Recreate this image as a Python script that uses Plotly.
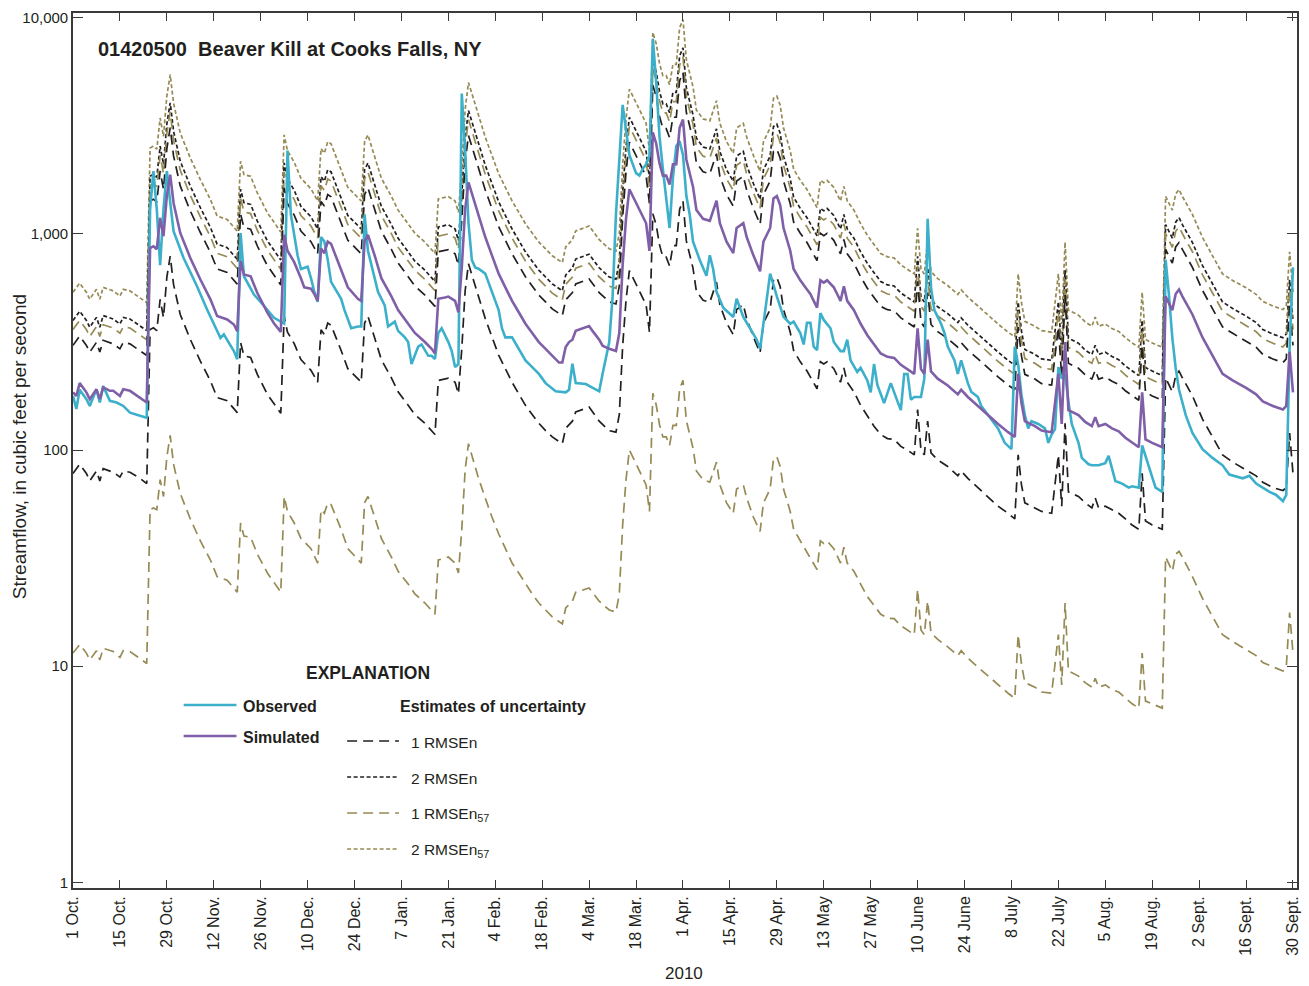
import pandas as pd
import plotly.graph_objects as go

# Water year 2010, days counted from 1 October 2009
START = pd.Timestamp("2009-10-01")

# Observed daily streamflow (cubic feet per second)
obs_day = [0, 1, 2, 4, 5, 7, 8, 9, 11, 13, 15, 17, 20, 22, 23, 24, 25, 26, 27, 28,
           29, 30, 33, 37, 40, 43, 44, 45, 48, 49, 50, 51, 54, 57, 60, 63, 64, 65, 66, 67,
           68, 70, 71, 72, 73, 74, 75, 76, 77, 78, 80, 81, 83, 85, 86, 87, 88, 90, 91, 93,
           94, 96, 97, 99, 100, 101, 103, 104, 106, 107, 108, 109, 110, 112, 113, 114, 115, 116, 117, 118,
           119, 120, 121, 123, 125, 127, 128, 129, 131, 133, 135, 137, 139, 141, 144, 147, 148, 149, 150, 153,
           155, 157, 158, 160, 161, 162, 164, 165, 166, 168, 169, 170, 171, 172, 173, 174, 175, 176, 177, 178,
           179, 180, 181, 182, 183, 184, 185, 187, 189, 190, 191, 192, 194, 197, 198, 200, 202, 204, 205, 208,
           210, 212, 214, 215, 217, 218, 219, 220, 221, 222, 223, 224, 226, 227, 229, 230, 231, 232, 234, 235,
           237, 238, 239, 240, 242, 243, 244, 246, 247, 248, 249, 250, 251, 253, 254, 255, 256, 257, 259, 260,
           261, 263, 264, 265, 267, 268, 270, 271, 273, 276, 278, 280, 281, 282, 283, 284, 285, 286, 288, 290,
           291, 292, 293, 294, 295, 296, 297, 298, 300, 301, 303, 304, 306, 308, 309, 310, 311, 313, 315, 316,
           318, 319, 320, 322, 323, 325, 326, 327, 328, 329, 330, 332, 334, 337, 340, 343, 345, 349, 351, 353,
           355, 357, 359, 361, 362, 363, 364]
obs_cfs = [178, 155, 190, 172, 160, 191, 166, 198, 169, 166, 160, 149, 144, 141, 1300, 1950, 1300, 716, 1300, 1950,
           1400, 1030, 774, 573, 447, 355, 330, 343, 287, 263, 1010, 637, 524, 464, 409, 385, 2430, 1230, 1010, 796,
           688, 705, 624, 540, 485, 967, 921, 760, 600, 566, 501, 444, 366, 373, 373, 1230, 836, 624, 540, 467,
           373, 393, 356, 332, 316, 250, 301, 308, 273, 273, 264, 348, 366, 316, 287, 242, 250, 4460, 2430, 1120,
           758, 700, 690, 655, 540, 444, 365, 332, 332, 294, 260, 242, 225, 204, 187, 185, 190, 251, 204, 202,
           194, 187, 225, 316, 514, 1230, 3950, 2950, 2320, 1910, 1860, 2000, 2100, 2300, 8000, 5040, 2810, 2000, 1500, 1065,
           1820, 2550, 2680, 2320, 1500, 1230, 921, 758, 640, 796, 688, 540, 455, 413, 501, 413, 366, 324, 294, 655,
           514, 413, 384, 393, 348, 308, 388, 388, 301, 290, 430, 400, 366, 316, 287, 287, 324, 260, 230, 240,
           210, 185, 250, 200, 165, 186, 204, 168, 153, 225, 225, 171, 176, 176, 214, 1174, 566, 444, 384, 348,
           301, 260, 225, 260, 204, 186, 176, 160, 145, 126, 108, 101, 301, 249, 180, 145, 126, 136, 132, 126,
           108, 118, 125, 242, 214, 225, 168, 132, 108, 92, 86, 85, 85, 87, 94, 81, 72, 70, 67, 68,
           67, 105, 94, 74, 67, 64, 760, 520, 330, 240, 190, 145, 120, 101, 92, 85, 77, 74, 76, 70,
           67, 64, 62, 58, 62, 300, 700]

# Simulated daily streamflow (cubic feet per second)
sim_day = [0, 1, 2, 4, 5, 7, 8, 9, 11, 12, 14, 15, 17, 20, 22, 23, 24, 25, 26, 27,
           28, 29, 30, 32, 35, 38, 41, 43, 46, 48, 49, 50, 51, 53, 55, 58, 60, 62, 63, 64,
           66, 68, 69, 71, 72, 73, 74, 75, 76, 77, 80, 82, 85, 86, 87, 88, 90, 92, 95, 97,
           100, 102, 105, 107, 108, 109, 111, 112, 114, 115, 116, 117, 118, 120, 121, 123, 125, 127, 129, 131,
           133, 135, 137, 139, 141, 143, 145, 146, 147, 148, 149, 150, 152, 154, 155, 157, 158, 160, 162, 163,
           164, 165, 166, 167, 169, 171, 172, 173, 174, 175, 176, 177, 178, 179, 180, 181, 182, 183, 185, 186,
           188, 190, 192, 193, 195, 197, 198, 200, 201, 203, 205, 206, 208, 209, 210, 211, 212, 214, 215, 217,
           219, 220, 221, 222, 223, 224, 225, 227, 228, 229, 230, 231, 233, 235, 237, 239, 241, 243, 245, 247,
           249, 251, 252, 253, 254, 255, 256, 258, 261, 264, 265, 267, 270, 273, 276, 279, 281, 282, 283, 284,
           287, 289, 292, 294, 295, 296, 297, 300, 302, 304, 305, 306, 308, 310, 312, 314, 316, 318, 319, 320,
           322, 325, 326, 328, 329, 330, 331, 334, 337, 340, 343, 346, 350, 353, 355, 358, 361, 362, 363, 364]
sim_cfs = [185, 178, 204, 185, 172, 191, 172, 195, 188, 188, 178, 191, 188, 175, 166, 860, 877, 850, 1185, 976,
           1500, 1880, 1390, 1010, 774, 615, 498, 417, 402, 381, 355, 748, 649, 637, 533, 432, 385, 352, 990, 836,
           740, 624, 566, 558, 527, 490, 856, 815, 921, 900, 688, 566, 501, 490, 921, 990, 796, 624, 514, 444,
           384, 348, 316, 294, 280, 501, 508, 513, 490, 434, 700, 1300, 1730, 1360, 1200, 967, 796, 655, 566, 490,
           434, 384, 348, 316, 294, 273, 254, 254, 300, 316, 324, 356, 366, 375, 356, 324, 304, 294, 287, 348,
           722, 1174, 1610, 1500, 1290, 1120, 835, 2950, 2620, 2120, 1860, 1860, 1690, 2100, 2100, 3100, 3380, 2210, 1650, 1290,
           1174, 1150, 1425, 1120, 921, 815, 1065, 1120, 967, 796, 672, 921, 1065, 1460, 1497, 1358, 1065, 836, 688, 610,
           553, 527, 490, 456, 610, 595, 610, 566, 527, 490, 572, 490, 444, 384, 340, 308, 280, 270, 267, 248,
           237, 225, 366, 237, 225, 324, 231, 214, 199, 181, 190, 176, 160, 145, 132, 121, 115, 225, 165, 136,
           129, 123, 121, 225, 132, 316, 153, 145, 135, 129, 142, 129, 132, 126, 122, 114, 108, 103, 185, 112,
           108, 103, 514, 444, 527, 553, 514, 424, 332, 273, 225, 210, 194, 181, 168, 160, 154, 160, 285, 185]

# Days at which the uncertainty bounds are given
band_day = [0, 2, 4, 5, 7, 8, 9, 12, 14, 15,
            17, 20, 22, 23, 24, 25, 26, 27, 28, 29,
            30, 32, 35, 38, 41, 43, 46, 49, 50, 51,
            53, 55, 58, 62, 63, 64, 66, 68, 71, 73,
            74, 75, 76, 77, 80, 82, 86, 87, 88, 90,
            92, 95, 97, 100, 102, 105, 108, 109, 112, 114,
            115, 116, 117, 118, 120, 121, 123, 125, 127, 129,
            131, 133, 135, 137, 139, 141, 143, 146, 147, 149,
            150, 154, 155, 157, 160, 162, 163, 164, 165, 166,
            167, 169, 171, 172, 173, 174, 175, 176, 177, 178,
            179, 180, 181, 182, 183, 185, 186, 188, 190, 192,
            193, 195, 197, 198, 200, 201, 203, 205, 206, 208,
            209, 210, 211, 212, 214, 215, 217, 219, 221, 222,
            223, 224, 225, 227, 229, 230, 231, 233, 235, 237,
            239, 241, 243, 245, 247, 249, 251, 252, 253, 254,
            255, 256, 258, 261, 264, 265, 267, 270, 273, 276,
            279, 281, 282, 283, 284, 287, 289, 292, 294, 295,
            296, 297, 300, 302, 304, 305, 306, 308, 310, 312,
            314, 316, 318, 319, 320, 322, 325, 326, 328, 329,
            330, 331, 334, 337, 340, 343, 346, 350, 353, 355,
            358, 361, 362, 363, 364]

# 1 RMSEn, upper bound
rmsen1_upper = [305, 337, 305, 284, 315, 284, 322, 310, 294, 315,
                310, 289, 274, 1419, 1447, 1403, 1955, 1610, 2475, 3102,
                2294, 1667, 1277, 1015, 822, 688, 663, 586, 1234, 1071,
                1051, 879, 713, 581, 1634, 1379, 1221, 1030, 921, 809,
                1412, 1345, 1520, 1485, 1135, 934, 809, 1520, 1634, 1313,
                1030, 848, 733, 634, 574, 521, 462, 827, 846, 809,
                716, 1155, 2145, 2855, 2244, 1980, 1596, 1313, 1081, 934,
                809, 716, 634, 574, 521, 485, 450, 419, 495, 535,
                587, 619, 587, 535, 485, 474, 574, 1191, 1937, 2657,
                2475, 2129, 1848, 1378, 4868, 4323, 3498, 3069, 3069, 2789,
                3465, 3465, 5115, 5577, 3647, 2723, 2129, 1937, 1898, 2351,
                1848, 1520, 1345, 1757, 1848, 1596, 1313, 1109, 1520, 1757,
                2409, 2470, 2241, 1757, 1379, 1135, 1007, 912, 809, 752,
                1007, 982, 1007, 934, 809, 944, 809, 733, 634, 561,
                508, 462, 446, 441, 409, 391, 371, 604, 391, 371,
                535, 381, 353, 328, 299, 314, 290, 264, 239, 218,
                200, 190, 371, 272, 224, 213, 203, 200, 371, 218,
                521, 252, 239, 223, 213, 234, 213, 218, 208, 201,
                188, 178, 170, 305, 185, 178, 170, 848, 733, 870,
                912, 848, 700, 548, 450, 371, 347, 320, 299, 277,
                264, 254, 264, 470, 305]

# 1 RMSEn, lower bound
rmsen1_lower = [78, 86, 78, 72, 80, 72, 82, 79, 75, 80,
                79, 74, 70, 361, 368, 357, 498, 410, 630, 790,
                584, 424, 325, 258, 209, 175, 169, 149, 314, 273,
                268, 224, 181, 148, 416, 351, 311, 262, 234, 206,
                360, 342, 387, 378, 289, 238, 206, 387, 416, 334,
                262, 216, 186, 161, 146, 133, 118, 210, 215, 206,
                182, 294, 546, 727, 571, 504, 406, 334, 275, 238,
                206, 182, 161, 146, 133, 123, 115, 107, 126, 136,
                150, 158, 150, 136, 123, 121, 146, 303, 493, 676,
                630, 542, 470, 351, 1239, 1100, 890, 781, 781, 710,
                882, 882, 1302, 1420, 928, 693, 542, 493, 483, 599,
                470, 387, 342, 447, 470, 406, 334, 282, 387, 447,
                613, 629, 570, 447, 351, 289, 256, 232, 206, 192,
                256, 250, 256, 238, 206, 240, 206, 186, 161, 143,
                129, 118, 113, 112, 104, 100, 95, 154, 100, 95,
                136, 97, 90, 84, 76, 80, 74, 67, 61, 55,
                51, 48, 95, 69, 57, 54, 52, 51, 95, 55,
                133, 64, 61, 57, 54, 60, 54, 55, 53, 51,
                48, 45, 43, 78, 47, 45, 43, 216, 186, 221,
                232, 216, 178, 139, 115, 95, 88, 81, 76, 71,
                67, 65, 67, 120, 78]

# 2 RMSEn, upper bound
rmsen2_upper = [398, 439, 398, 370, 411, 370, 419, 404, 383, 411,
                404, 376, 357, 1849, 1886, 1828, 2548, 2098, 3225, 4042,
                2989, 2172, 1664, 1322, 1071, 897, 864, 763, 1608, 1395,
                1370, 1146, 929, 757, 2129, 1797, 1591, 1342, 1200, 1054,
                1840, 1752, 1980, 1935, 1479, 1217, 1054, 1980, 2129, 1711,
                1342, 1105, 955, 826, 748, 679, 602, 1077, 1103, 1054,
                933, 1505, 2795, 3720, 2924, 2580, 2079, 1711, 1408, 1217,
                1054, 933, 826, 748, 679, 632, 587, 546, 645, 697,
                765, 806, 765, 697, 632, 617, 748, 1552, 2524, 3462,
                3225, 2774, 2408, 1795, 6343, 5633, 4558, 3999, 3999, 3634,
                4515, 4515, 6665, 7267, 4752, 3548, 2774, 2524, 2473, 3064,
                2408, 1980, 1752, 2290, 2408, 2079, 1711, 1445, 1980, 2290,
                3139, 3219, 2920, 2290, 1797, 1479, 1312, 1189, 1054, 980,
                1312, 1279, 1312, 1217, 1054, 1230, 1054, 955, 826, 731,
                662, 602, 581, 574, 533, 510, 484, 787, 510, 484,
                697, 497, 460, 428, 389, 409, 378, 344, 312, 284,
                260, 247, 484, 355, 292, 277, 264, 260, 484, 284,
                679, 329, 312, 290, 277, 305, 277, 284, 271, 262,
                245, 232, 221, 398, 241, 232, 221, 1105, 955, 1133,
                1189, 1105, 912, 714, 587, 484, 452, 417, 389, 361,
                344, 331, 344, 613, 398]

# 1 RMSEn57, upper bound
rmsen57_1_upper = [361, 398, 361, 335, 372, 335, 380, 367, 347, 372,
                   367, 341, 324, 1677, 1710, 1658, 2311, 1903, 2925, 3666,
                   2711, 1970, 1509, 1199, 971, 813, 784, 692, 1459, 1266,
                   1242, 1039, 842, 686, 1931, 1630, 1443, 1217, 1088, 956,
                   1669, 1589, 1796, 1755, 1342, 1104, 956, 1796, 1931, 1552,
                   1217, 1002, 866, 749, 679, 616, 546, 977, 1000, 956,
                   846, 1365, 2535, 3374, 2652, 2340, 1886, 1552, 1277, 1104,
                   956, 846, 749, 679, 616, 573, 532, 495, 585, 632,
                   694, 731, 694, 632, 573, 560, 679, 1408, 2289, 3140,
                   2925, 2516, 2184, 1628, 5753, 5109, 4134, 3627, 3627, 3296,
                   4095, 4095, 6045, 6591, 4310, 3218, 2516, 2289, 2243, 2779,
                   2184, 1796, 1589, 2077, 2184, 1886, 1552, 1310, 1796, 2077,
                   2847, 2919, 2648, 2077, 1630, 1342, 1190, 1078, 956, 889,
                   1190, 1160, 1190, 1104, 956, 1115, 956, 866, 749, 663,
                   601, 546, 527, 521, 484, 462, 439, 714, 462, 439,
                   632, 450, 417, 388, 353, 371, 343, 312, 283, 257,
                   236, 224, 439, 322, 265, 252, 240, 236, 439, 257,
                   616, 298, 283, 263, 252, 277, 252, 257, 246, 238,
                   222, 211, 201, 361, 218, 211, 201, 1002, 866, 1028,
                   1078, 1002, 827, 647, 532, 439, 410, 378, 353, 328,
                   312, 300, 312, 556, 361]

# 1 RMSEn57, lower bound
rmsen57_1_lower = [11.5, 12.6, 11.5, 10.7, 11.8, 10.7, 12.1, 11.7, 11.0, 11.8,
                   11.7, 10.9, 10.3, 53, 54, 53, 73, 61, 93, 117,
                   86, 63, 48, 38, 31, 26, 25, 22, 46, 40,
                   39.5, 33, 27, 22, 61, 52, 46, 39, 35, 30,
                   53, 51, 57, 56, 43, 35, 30, 57, 61, 49,
                   39, 32, 27.5, 24, 21.6, 19.6, 17.4, 31, 32, 30,
                   27, 43, 81, 107, 84, 74, 60, 49, 41, 35,
                   30, 27, 24, 21.6, 19.6, 18.2, 16.9, 15.7, 18.6, 20,
                   22, 23, 22, 20, 18.2, 17.8, 21.6, 45, 73, 100,
                   93, 80, 69, 52, 183, 162, 131, 115, 115, 105,
                   130, 130, 192, 210, 137, 102, 80, 73, 71, 88,
                   69, 57, 51, 66, 69, 60, 49, 42, 57, 66,
                   91, 93, 84, 66, 52, 43, 38, 34, 30, 28,
                   38, 37, 38, 35, 30, 35.5, 30, 27.5, 24, 21,
                   19.1, 17.4, 16.7, 16.6, 15.4, 14.7, 14, 22.7, 14.7, 14,
                   20, 14.3, 13.3, 12.3, 11.2, 11.8, 10.9, 9.9, 9.0, 8.2,
                   7.5, 7.1, 14, 10.2, 8.4, 8.0, 7.6, 7.5, 14, 8.2,
                   19.6, 9.5, 9.0, 8.4, 8.0, 8.8, 8.0, 8.2, 7.8, 7.6,
                   7.1, 6.7, 6.4, 11.5, 6.9, 6.7, 6.4, 32, 27.5, 33,
                   34, 32, 26, 20.6, 16.9, 14, 13, 12, 11.2, 10.4,
                   9.9, 9.5, 9.9, 17.7, 11.5]

# 2 RMSEn57, upper bound
rmsen57_2_upper = [537, 592, 537, 499, 554, 499, 566, 545, 516, 554,
                   545, 508, 481, 2494, 2543, 2465, 3437, 2830, 4350, 5452,
                   4031, 2929, 2245, 1784, 1444, 1209, 1166, 1030, 2169, 1882,
                   1847, 1546, 1253, 1021, 2871, 2424, 2146, 1810, 1618, 1421,
                   2482, 2364, 2671, 2610, 1995, 1641, 1421, 2671, 2871, 2308,
                   1810, 1491, 1288, 1114, 1009, 916, 812, 1453, 1488, 1421,
                   1259, 2030, 3770, 5017, 3944, 3480, 2804, 2308, 1900, 1641,
                   1421, 1259, 1114, 1009, 916, 853, 792, 737, 870, 940,
                   1032, 1088, 1032, 940, 853, 832, 1009, 2094, 3405, 4669,
                   4350, 3741, 3248, 2422, 8555, 7598, 6148, 5394, 5394, 4901,
                   6090, 6090, 8990, 9802, 6409, 4785, 3741, 3405, 3335, 4133,
                   3248, 2671, 2364, 3089, 3248, 2804, 2308, 1949, 2671, 3089,
                   4234, 4341, 3938, 3089, 2424, 1995, 1769, 1604, 1421, 1322,
                   1769, 1726, 1769, 1641, 1421, 1659, 1421, 1288, 1114, 986,
                   893, 812, 783, 774, 719, 687, 653, 1061, 687, 653,
                   940, 670, 621, 577, 525, 551, 510, 464, 421, 383,
                   351, 334, 653, 479, 394, 374, 357, 351, 653, 383,
                   916, 444, 421, 392, 374, 412, 374, 383, 365, 354,
                   331, 313, 299, 537, 325, 313, 299, 1491, 1288, 1528,
                   1604, 1491, 1230, 963, 792, 653, 609, 563, 525, 487,
                   464, 447, 464, 827, 537]

tick_day = list(range(0, 365, 14))
tick_text = ["1 Oct.", "15 Oct.", "29 Oct.", "12 Nov.", "26 Nov.", "10 Dec.", "24 Dec.",
             "7 Jan.", "21 Jan.", "4 Feb.", "18 Feb.", "4 Mar.", "18 Mar.", "1 Apr.",
             "15 Apr.", "29 Apr.", "13 May", "27 May", "10 June", "24 June", "8 July",
             "22 July", "5 Aug.", "19 Aug.", "2 Sept.", "16 Sept.", "30 Sept."]

y_tickvals = [1, 10, 100, 1000, 10000]
y_ticktext = ["1", "10", "100", "1,000", "10,000"]

FONT = "Liberation Sans, Arial, Helvetica, sans-serif"
INK = "#231f20"
AXIS = "#3a3a3a"
C_OBS = "#3cb0ca"
C_SIM = "#7f60a8"
C_BLACK = "#231f20"
C_OLIVE = "#968a55"
DASH_LONG = "10px,6px"
DASH_SHORT = "4px,2.5px"
BAND_W = 1.7


def to_dates(days):
    return START + pd.to_timedelta(days, unit="D")


fig = go.Figure()

bands = [
    (rmsen57_2_upper, C_OLIVE, DASH_SHORT, "2 RMSEn57"),
    (rmsen2_upper, C_BLACK, DASH_SHORT, "2 RMSEn"),
    (rmsen57_1_upper, C_OLIVE, DASH_LONG, "1 RMSEn57"),
    (rmsen1_upper, C_BLACK, DASH_LONG, "1 RMSEn"),
    (rmsen1_lower, C_BLACK, DASH_LONG, "1 RMSEn"),
    (rmsen57_1_lower, C_OLIVE, DASH_LONG, "1 RMSEn57"),
]
band_x = to_dates(band_day)
for vals, color, dash, name in bands:
    fig.add_trace(go.Scatter(x=band_x, y=vals, mode="lines", name=name,
                             line=dict(color=color, width=BAND_W, dash=dash)))

fig.add_trace(go.Scatter(x=to_dates(obs_day), y=obs_cfs, mode="lines", name="Observed",
                         line=dict(color=C_OBS, width=2.6)))
fig.add_trace(go.Scatter(x=to_dates(sim_day), y=sim_cfs, mode="lines", name="Simulated",
                         line=dict(color=C_SIM, width=2.6)))

# Plot area in pixels: x 73..1301, y 13..888
PL, PR, PT, PB = 73, 1301, 13, 888


def px(x):
    return (x - PL) / (PR - PL)


def py(y):
    return (PB - y) / (PB - PT)


annotations = [
    dict(text="<b>01420500  Beaver Kill at Cooks Falls, NY</b>", x=px(96), y=py(49),
         xanchor="left", yanchor="middle", font=dict(family=FONT, size=20, color=INK)),
    dict(text="<b>EXPLANATION</b>", x=px(369), y=py(673), xanchor="center", yanchor="middle",
         font=dict(family=FONT, size=17.5, color=INK)),
    dict(text="<b>Observed</b>", x=px(242), y=py(706), xanchor="left", yanchor="middle",
         font=dict(family=FONT, size=16, color=INK)),
    dict(text="<b>Simulated</b>", x=px(242), y=py(737), xanchor="left", yanchor="middle",
         font=dict(family=FONT, size=16, color=INK)),
    dict(text="<b>Estimates of uncertainty</b>", x=px(399), y=py(706), xanchor="left", yanchor="middle",
         font=dict(family=FONT, size=16, color=INK)),
    dict(text="2010", x=px(686), y=py(973), xanchor="center", yanchor="middle",
         font=dict(family=FONT, size=17, color=INK)),
    dict(text="Streamflow, in cubic feet per second", x=px(19), y=py(447), textangle=-90,
         xanchor="center", yanchor="middle", font=dict(family=FONT, size=19, color=INK)),
]
shapes = [
    dict(type="line", xref="paper", yref="paper", x0=px(184), x1=px(237), y0=py(705), y1=py(705),
         line=dict(color=C_OBS, width=2.6)),
    dict(type="line", xref="paper", yref="paper", x0=px(184), x1=px(237), y0=py(736), y1=py(736),
         line=dict(color=C_SIM, width=2.6)),
]
legend_rows = [
    (741, C_BLACK, DASH_LONG, "1 RMSEn"),
    (777, C_BLACK, DASH_SHORT, "2 RMSEn"),
    (813, C_OLIVE, DASH_LONG, "1 RMSEn<sub>57</sub>"),
    (849, C_OLIVE, DASH_SHORT, "2 RMSEn<sub>57</sub>"),
]
for ypix, color, dash, label in legend_rows:
    shapes.append(dict(type="line", xref="paper", yref="paper", x0=px(348), x1=px(400),
                       y0=py(ypix), y1=py(ypix), line=dict(color=color, width=BAND_W, dash=dash)))
    annotations.append(dict(text=label, x=px(410), y=py(ypix + 1), xanchor="left", yanchor="middle",
                            font=dict(family=FONT, size=15.5, color=INK)))

for a in annotations:
    a.update(xref="paper", yref="paper", showarrow=False)

fig.update_layout(
    width=1309, height=986,
    margin=dict(l=PL, r=1309 - PR, t=PT, b=986 - PB),
    plot_bgcolor="white", paper_bgcolor="white",
    showlegend=False, hovermode=False,
    annotations=annotations, shapes=shapes,
    xaxis=dict(
        type="date",
        range=[START, START + pd.Timedelta(hours=365.2 * 24)],
        tickvals=to_dates(tick_day), ticktext=tick_text, tickangle=-90,
        ticks="inside", ticklen=8, tickwidth=1.4, tickcolor=AXIS,
        showline=True, linecolor=AXIS, linewidth=1.6, mirror="ticks",
        showgrid=False, zeroline=False,
        tickfont=dict(family=FONT, size=16, color=INK),
    ),
    yaxis=dict(
        type="log", range=[-0.026, 4.022],
        tickvals=y_tickvals, ticktext=y_ticktext,
        ticks="inside", ticklen=10, tickwidth=1.4, tickcolor=AXIS,
        showline=True, linecolor=AXIS, linewidth=1.6, mirror="ticks",
        showgrid=False, zeroline=False,
        tickfont=dict(family=FONT, size=15, color=INK),
    ),
)

fig.write_html("out.html")
